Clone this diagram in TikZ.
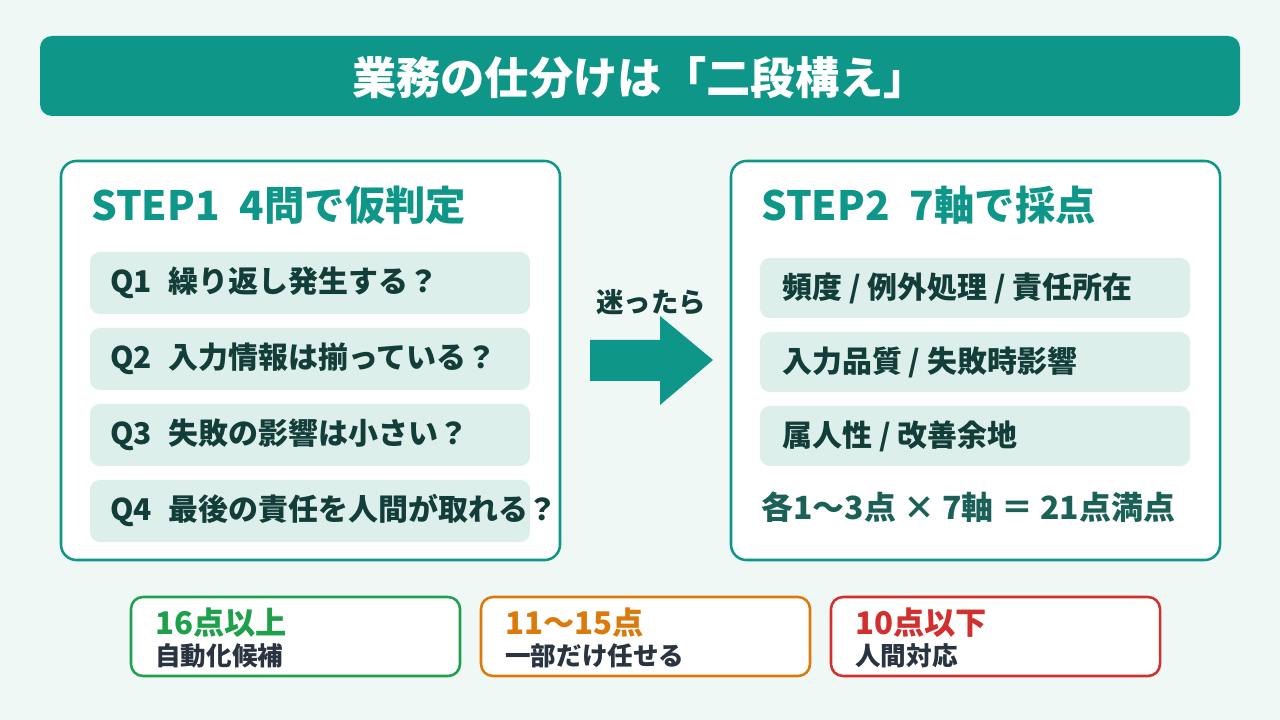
\documentclass[tikz,border=0pt]{standalone}
\usepackage{fontspec}
\setmainfont{Noto Sans CJK JP}
\definecolor{bgmint}{HTML}{F0F8F6}
\definecolor{tealmain}{HTML}{0E9688}
\definecolor{itemfill}{HTML}{DDEFEB}
\definecolor{darktext}{HTML}{123D38}
\definecolor{sumtext}{HTML}{1B6158}
\definecolor{subtext}{HTML}{2A3340}
\definecolor{goodgreen}{HTML}{1FA04A}
\definecolor{midorange}{HTML}{DB7A0B}
\definecolor{lowred}{HTML}{D22F2F}

\begin{document}
\begin{tikzpicture}[x=0.025cm, y=-0.025cm,
    every node/.style={inner sep=0pt},
    panel/.style={draw=tealmain, fill=white, line width=1.8pt, rounded corners=11pt},
    itembox/.style={fill=itemfill, rounded corners=7pt},
    legendbox/.style={fill=white, line width=1.8pt, rounded corners=8.5pt},
    heading/.style={anchor=west, text=tealmain, font=\fontsize{28.7}{34}\selectfont\bfseries},
    itemtext/.style={anchor=west, text=darktext, font=\fontsize{21.3}{26}\selectfont\bfseries},
    legendhead/.style={anchor=west, font=\fontsize{22.2}{27}\selectfont\bfseries},
    legendsub/.style={anchor=west, text=subtext, font=\fontsize{18.2}{22}\selectfont\bfseries}]
                % Background
                \fill[bgmint] (0,0) rectangle (1280,720);
                \useasboundingbox (0,0) rectangle (1280,720);

                % Title bar
                \fill[tealmain, rounded corners=8.5pt] (40,36) rectangle (1240,116);
                \node[text=white, font=\fontsize{31.5}{36}\selectfont\bfseries] (title) at (640,78) {業務の仕分けは「二段構え」};

                % Step 1 panel
                \draw[panel] (61,161) rectangle (560,560);
                \node[heading] (step1) at (91,205) {STEP1\hspace{0.5em}4問で仮判定};
                \fill[itembox] (90,252) rectangle (530,314);
                \fill[itembox] (90,328) rectangle (530,390);
                \fill[itembox] (90,404) rectangle (530,466);
                \fill[itembox] (90,480) rectangle (530,542);
                \node[itemtext] (q1) at (110,283) {Q1\hspace{0.55em}繰り返し発生する？};
                \node[itemtext] (q2) at (110,359) {Q2\hspace{0.55em}入力情報は揃っている？};
                \node[itemtext] (q3) at (110,435) {Q3\hspace{0.55em}失敗の影響は小さい？};
                \node[itemtext] (q4) at (110,511) {Q4\hspace{0.55em}最後の責任を人間が取れる？};

                % Arrow between the steps
                \node[text=darktext, font=\fontsize{19.5}{23}\selectfont\bfseries] (maybe) at (651,302) {迷ったら};
                \fill[tealmain] (590,340) -- (660,340) -- (660,316) -- (713,360)
                    -- (660,405) -- (660,381) -- (590,381) -- cycle;

                % Step 2 panel
                \draw[panel] (731,161) rectangle (1220,560);
                \node[heading] (step2) at (761,205) {STEP2\hspace{0.5em}7軸で採点};
                \fill[itembox] (760,258) rectangle (1190,318);
                \fill[itembox] (760,332) rectangle (1190,392);
                \fill[itembox] (760,406) rectangle (1190,466);
                \node[itemtext] (axisA) at (782,288) {頻度 / 例外処理 / 責任所在};
                \node[itemtext] (axisB) at (782,362) {入力品質 / 失敗時影響};
                \node[itemtext] (axisC) at (782,436) {属人性 / 改善余地};
                \node[anchor=west, text=sumtext, font=\fontsize{22.7}{27}\selectfont\bfseries] (total) at (761,507)
                    {各1〜3点 × 7軸 ＝ 21点満点};

                % Score bands
                \draw[legendbox, draw=goodgreen] (131,597) rectangle (460,676);
                \draw[legendbox, draw=midorange] (481,597) rectangle (810,676);
                \draw[legendbox, draw=lowred] (831,597) rectangle (1160,676);
                \node[legendhead, text=goodgreen] (high) at (155,623) {16点以上};
                \node[legendsub] (highsub) at (155,656) {自動化候補};
                \node[legendhead, text=midorange] (mid) at (505,623) {11〜15点};
                \node[legendsub] (midsub) at (505,656) {一部だけ任せる};
                \node[legendhead, text=lowred] (low) at (855,623) {10点以下};
                \node[legendsub] (lowsub) at (855,656) {人間対応};
\end{tikzpicture}
\end{document}
